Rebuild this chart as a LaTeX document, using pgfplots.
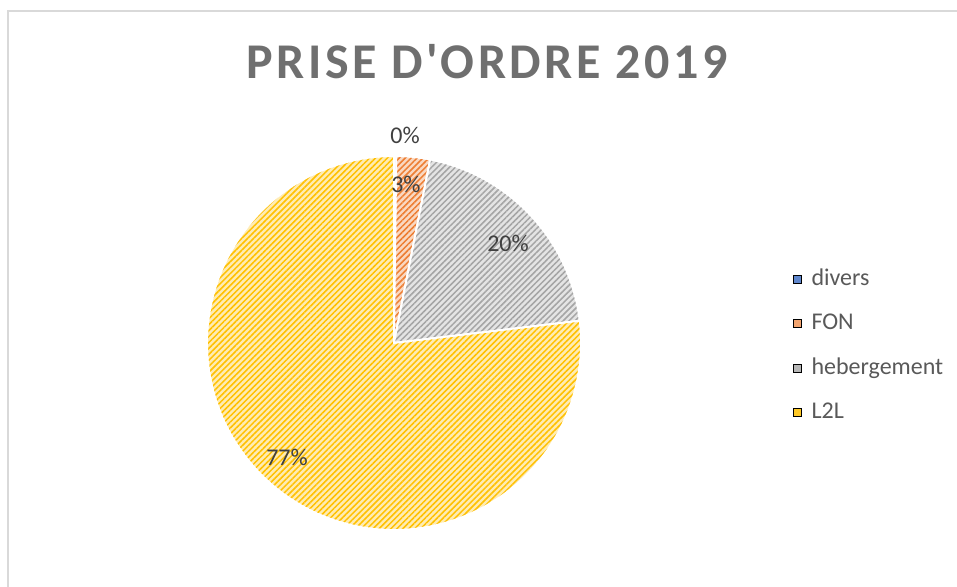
\documentclass[border=0pt]{standalone}
\usepackage{fontspec}
\setmainfont{Carlito}
\newfontfamily\titlefont[LetterSpace=7]{Carlito}
\usepackage{pgfplots}
\usepackage{pgfplotstable}
\pgfplotsset{compat=1.18}
\usetikzlibrary{patterns.meta}
\definecolor{cBlue}{HTML}{4472C4}
\definecolor{cOrange}{HTML}{ED7D31}
\definecolor{cGray}{HTML}{A5A5A5}
\definecolor{cYellow}{HTML}{FFC000}
\definecolor{txtGray}{HTML}{404040}
\definecolor{legGray}{HTML}{595959}
\definecolor{titleGray}{HTML}{6F6F6F}
\definecolor{borderGray}{HTML}{D9D9D9}

\pgfplotstableread{
name value
divers 0.2
FON 2.9
hebergement 20.0
L2L 76.9
}\piedata

\begin{document}
\begin{tikzpicture}
\useasboundingbox (-197pt,-122pt) rectangle (281.5pt,171.5pt);
\draw[borderGray, line width=0.8pt] (-193pt,-122pt) -- (-193pt,166pt) -- (281.5pt,166pt);

\pgfplotstablegetelem{0}{value}\of\piedata \pgfmathsetmacro{\vA}{\pgfplotsretval}
\pgfplotstablegetelem{1}{value}\of\piedata \pgfmathsetmacro{\vB}{\pgfplotsretval}
\pgfplotstablegetelem{2}{value}\of\piedata \pgfmathsetmacro{\vC}{\pgfplotsretval}
\pgfplotstablegetelem{3}{value}\of\piedata \pgfmathsetmacro{\vD}{\pgfplotsretval}
\pgfmathsetmacro{\aZero}{90}
\pgfmathsetmacro{\aOne}{90-3.6*\vA}
\pgfmathsetmacro{\aTwo}{\aOne-3.6*\vB}
\pgfmathsetmacro{\aThree}{\aTwo-3.6*\vC}
\pgfmathsetmacro{\aFour}{\aThree-3.6*\vD}

\begin{axis}[
  at={(0pt,0pt)}, anchor=center,
  scale only axis, width=187pt, height=187pt,
  xmin=-1, xmax=1, ymin=-1, ymax=1,
  hide axis, clip=false,
  legend image code/.code={\fill[#1] (0pt,-2pt) rectangle (4pt,2pt);},
  legend cell align=left,
  legend style={at={(axis description cs:1.55,0.72)}, anchor=north west,
    draw=none, fill=none, font=\fontsize{12}{14}\selectfont, text=legGray,
    row sep=8.7pt, /tikz/every odd column/.append style={column sep=2.8pt}},
]
\addplot[forget plot, draw=white, line width=0.9pt, preaction={fill=cBlue!35!white},
  pattern={Lines[angle=45,distance=2.1pt,line width=0.75pt]}, pattern color=cBlue,
  domain=\aOne:\aZero, samples=3] ({cos(x)},{sin(x)}) -- (axis cs:0,0) -- cycle;
\addplot[forget plot, draw=white, line width=0.9pt, preaction={fill=cOrange!30!white},
  pattern={Lines[angle=45,distance=2.1pt,line width=0.75pt]}, pattern color=cOrange,
  domain=\aTwo:\aOne, samples=10] ({cos(x)},{sin(x)}) -- (axis cs:0,0) -- cycle;
\addplot[forget plot, draw=white, line width=0.9pt, preaction={fill=cGray!30!white},
  pattern={Lines[angle=45,distance=2.1pt,line width=0.75pt]}, pattern color=cGray,
  domain=\aThree:\aTwo, samples=40] ({cos(x)},{sin(x)}) -- (axis cs:0,0) -- cycle;
\addplot[forget plot, draw=white, line width=0.9pt, preaction={fill=cYellow!30!white},
  pattern={Lines[angle=45,distance=2.1pt,line width=0.75pt]}, pattern color=cYellow,
  domain=\aFour:\aThree, samples=120] ({cos(x)},{sin(x)}) -- (axis cs:0,0) -- cycle;

\addlegendimage{fill=cBlue!85!white}
\addlegendentry{divers}
\addlegendimage{fill=cOrange!70!white}
\addlegendentry{FON}
\addlegendimage{fill=cGray!80!white}
\addlegendentry{hebergement}
\addlegendimage{fill=cYellow!85!white}
\addlegendentry{L2L}

\node[text=txtGray, font=\fontsize{12}{14}\selectfont] at (axis cs:0.059,1.112) {0\%};
\node[text=txtGray, font=\fontsize{12}{14}\selectfont] at (axis cs:0.064,0.85) {3\%};
\node[text=txtGray, font=\fontsize{12}{14}\selectfont] at (axis cs:0.61,0.53) {20\%};
\node[text=txtGray, font=\fontsize{12}{14}\selectfont] at (axis cs:-0.572,-0.61) {77\%};
\end{axis}

\node[text=titleGray, font=\titlefont\bfseries\fontsize{25}{30}\selectfont] at (46.5pt,140.5pt) {PRISE D'ORDRE 2019};
\end{tikzpicture}
\end{document}
